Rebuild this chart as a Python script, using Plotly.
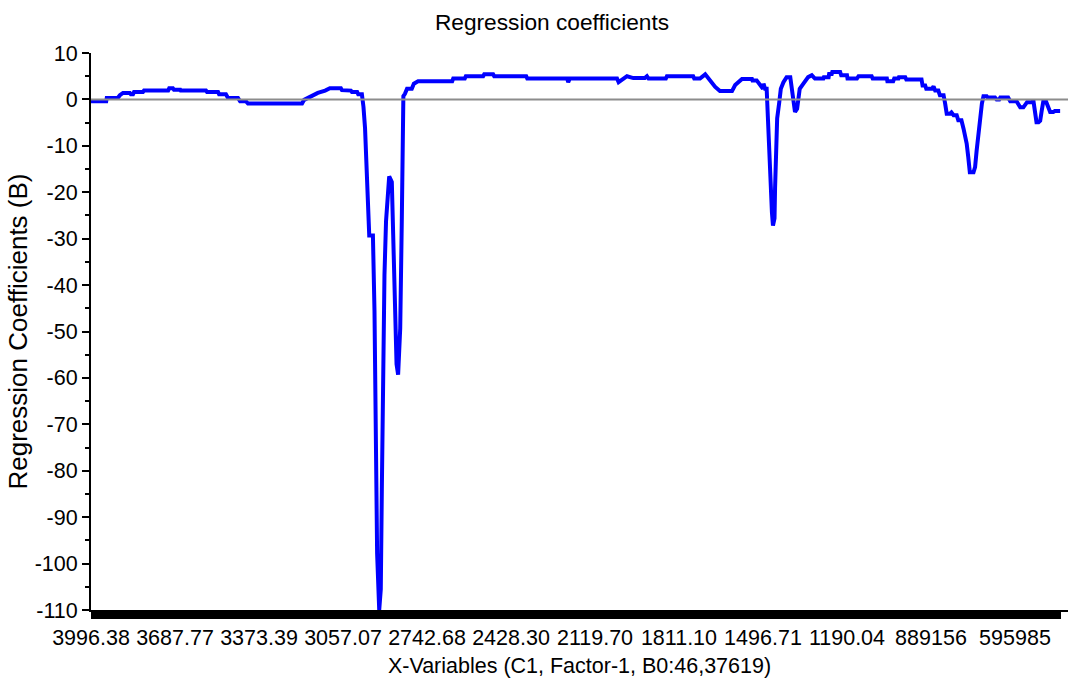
import plotly.graph_objects as go

# Variable index (spectral channel number) and regression coefficient value
var_index = [
    0, 29, 30, 51, 55, 61, 74, 76, 80, 82, 99, 101, 147, 149, 156, 158, 170, 171,
    219, 221, 242, 244, 257, 261, 280, 284, 295, 299, 356, 402, 406, 419, 432,
    446, 455, 476, 478, 495, 497, 507, 509, 516,
    519, 522, 525, 528, 530, 535, 537, 540, 542, 545, 549, 552, 554, 556, 559,
    562, 566, 568, 573, 576, 579, 582, 585, 589, 592, 594, 595,
    598, 602, 611, 615, 623, 688, 690, 712, 714, 747, 749, 766, 768, 829, 831,
    907, 909, 912, 1002, 1005, 1021, 1033, 1055, 1059, 1062, 1095, 1097, 1147,
    1149, 1160, 1170, 1189, 1198, 1221, 1227, 1236, 1240, 1259, 1260, 1268,
    1274, 1280, 1281, 1284, 1287,
    1289, 1290, 1292, 1295, 1297, 1299, 1302, 1303, 1305, 1307, 1311, 1314,
    1319, 1325, 1332, 1334, 1337, 1341, 1345, 1348, 1350, 1357, 1366, 1373,
    1379, 1395, 1396, 1405, 1406, 1411, 1412, 1427, 1429, 1440, 1441, 1459,
    1462, 1487, 1489, 1516, 1517, 1528, 1530, 1538, 1539, 1551, 1553, 1582,
    1584, 1589, 1591, 1602, 1605, 1608, 1614, 1617, 1624, 1627, 1630, 1636,
    1639, 1643, 1649, 1652, 1658, 1662, 1668, 1671, 1674, 1681, 1684, 1687,
    1690, 1694, 1697, 1700, 1706, 1708, 1722, 1725, 1730, 1732, 1747, 1751,
    1763, 1770, 1776, 1783, 1792, 1795, 1798, 1801, 1805, 1808, 1811, 1814,
    1819, 1824, 1827, 1833, 1836, 1846,
]
coefficients = [
    -0.4, -0.4, 0.3, 0.3, 0.9, 1.4, 1.4, 1.1, 1.1, 1.6, 1.6, 1.9, 1.9, 2.4, 2.4, 2.1, 2.1, 1.9,
    1.9, 1.6, 1.6, 1.1, 1.1, 0.3, 0.3, -0.4, -0.4, -0.9, -0.9, -0.9, -0.1, 0.6, 1.4,
    1.9, 2.4, 2.4, 2.0, 1.9, 1.6, 1.6, 1.1, 1.1,
    -1.6, -6.2, -16.2, -27.0, -29.3, -29.3, -29.3, -45.5, -72.4, -97.8, -110.0, -105.5, -84.0, -64.7, -37.8,
    -26.2, -19.3, -16.6, -17.8, -30.0, -47.8, -57.0, -59.3, -49.3, -26.2, -7.8, 0.7,
    1.2, 2.3, 2.3, 3.4, 3.9, 3.9, 4.5, 4.5, 5.0, 5.0, 5.4, 5.4, 5.0, 5.0, 4.5,
    4.5, 3.7, 4.5, 4.5, 3.7, 5.0, 4.6, 4.6, 5.0, 4.5, 4.5, 5.0, 5.0,
    4.5, 4.5, 5.4, 2.7, 1.8, 1.8, 3.1, 4.1, 4.4, 4.4, 4.1, 4.1,
    3.0, 2.3, 3.4, 2.3, 2.3,
    -3.4, -5.6, -13.5, -20.7, -24.3, -27.2, -25.6, -19.2, -10.6, -4.1, -0.6, 2.3,
    3.7, 4.8, 4.8, 3.0, -0.6, -2.7, -2.0, 0.1, 2.3, 3.4, 4.8, 5.2,
    4.5, 4.5, 4.8, 4.8, 5.5, 5.5, 5.9, 5.9, 5.2, 5.2, 4.5, 4.5,
    5.0, 5.0, 4.5, 4.5, 3.9, 3.9, 4.5, 4.5, 4.8, 4.8, 4.3, 4.3,
    3.0, 3.0, 2.3, 2.3, 2.8, 1.9, 1.9, 0.9, 0.9, -0.9, -3.1, -3.1,
    -2.8, -3.4, -3.4, -4.5, -4.5, -6.3, -9.5, -12.4, -15.7, -15.7, -14.6, -11.0,
    -7.4, -3.8, -0.9, 0.7, 0.7, 0.4, 0.4, 0.0, 0.0, 0.4, 0.4, -0.4,
    -0.4, -1.7, -1.7, -0.6, -0.6, -0.2, -3.1, -4.9, -4.9, -4.6, -2.4, -0.4,
    -0.4, -1.7, -2.7, -2.7, -2.5, -2.5,
]

# Wavenumber labels shown every 160 variables along the x-axis
tick_labels = ["3996.38", "3687.77", "3373.39", "3057.07", "2742.68", "2428.30",
               "2119.70", "1811.10", "1496.71", "1190.04", "889156", "595985"]
label_step = 160
n_vars = 1847

# y-axis tick values (labels use a plain hyphen for negatives)
y_ticks = [10, 0, -10, -20, -30, -40, -50, -60, -70, -80, -90, -100, -110]

FONT = "Liberation Sans, Arial, sans-serif"

fig = go.Figure()
fig.add_trace(go.Scatter(
    x=var_index, y=coefficients, mode="lines",
    line=dict(color="#0000FF", width=4),
    showlegend=False, hoverinfo="skip",
))

# zero reference line
fig.add_shape(type="line", xref="paper", x0=0, x1=1, yref="y", y0=0, y1=0,
              line=dict(color="#8C8C8C", width=2), layer="above")

fig.update_layout(
    width=1068, height=684,
    margin=dict(l=91, r=0, t=53, b=74),
    paper_bgcolor="white", plot_bgcolor="white",
    font=dict(family=FONT, size=21, color="black"),
    title=dict(text="Regression coefficients", x=552 / 1068, xanchor="center",
               y=1 - 22 / 684, yanchor="middle", yref="container",
               font=dict(family=FONT, size=22.7, color="black")),
)

fig.update_xaxes(
    range=[0, 1861],
    showgrid=False, zeroline=False,
    showline=True, linecolor="black", linewidth=2,
    tickmode="array",
    tickvals=[i * label_step for i in range(len(tick_labels))],
    ticktext=tick_labels,
    tickangle=0,
    ticks="outside", ticklen=7, tickwidth=1, tickcolor="black",
    minor=dict(tickvals=list(range(n_vars)), ticks="outside", ticklen=7,
               tickwidth=1, tickcolor="black"),
    tickfont=dict(family=FONT, size=21.5, color="black"),
    title=dict(text="X-Variables (C1, Factor-1, B0:46,37619)",
               font=dict(family=FONT, size=21.5, color="black"), standoff=9),
)

fig.update_yaxes(
    range=[-110, 10],
    showgrid=False, zeroline=False,
    showline=True, linecolor="black", linewidth=2,
    tickmode="array", tickvals=y_ticks,
    ticktext=[str(v) for v in y_ticks],
    ticks="outside", ticklen=7, tickwidth=2, tickcolor="black",
    minor=dict(dtick=5, tick0=0, ticks="outside", ticklen=4, tickwidth=2,
               tickcolor="black"),
    tickfont=dict(family=FONT, size=21.5, color="black"),
    title=dict(text="Regression Coefficients (B)",
               font=dict(family=FONT, size=26, color="black"), standoff=0),
)

fig.write_html("out.html")
